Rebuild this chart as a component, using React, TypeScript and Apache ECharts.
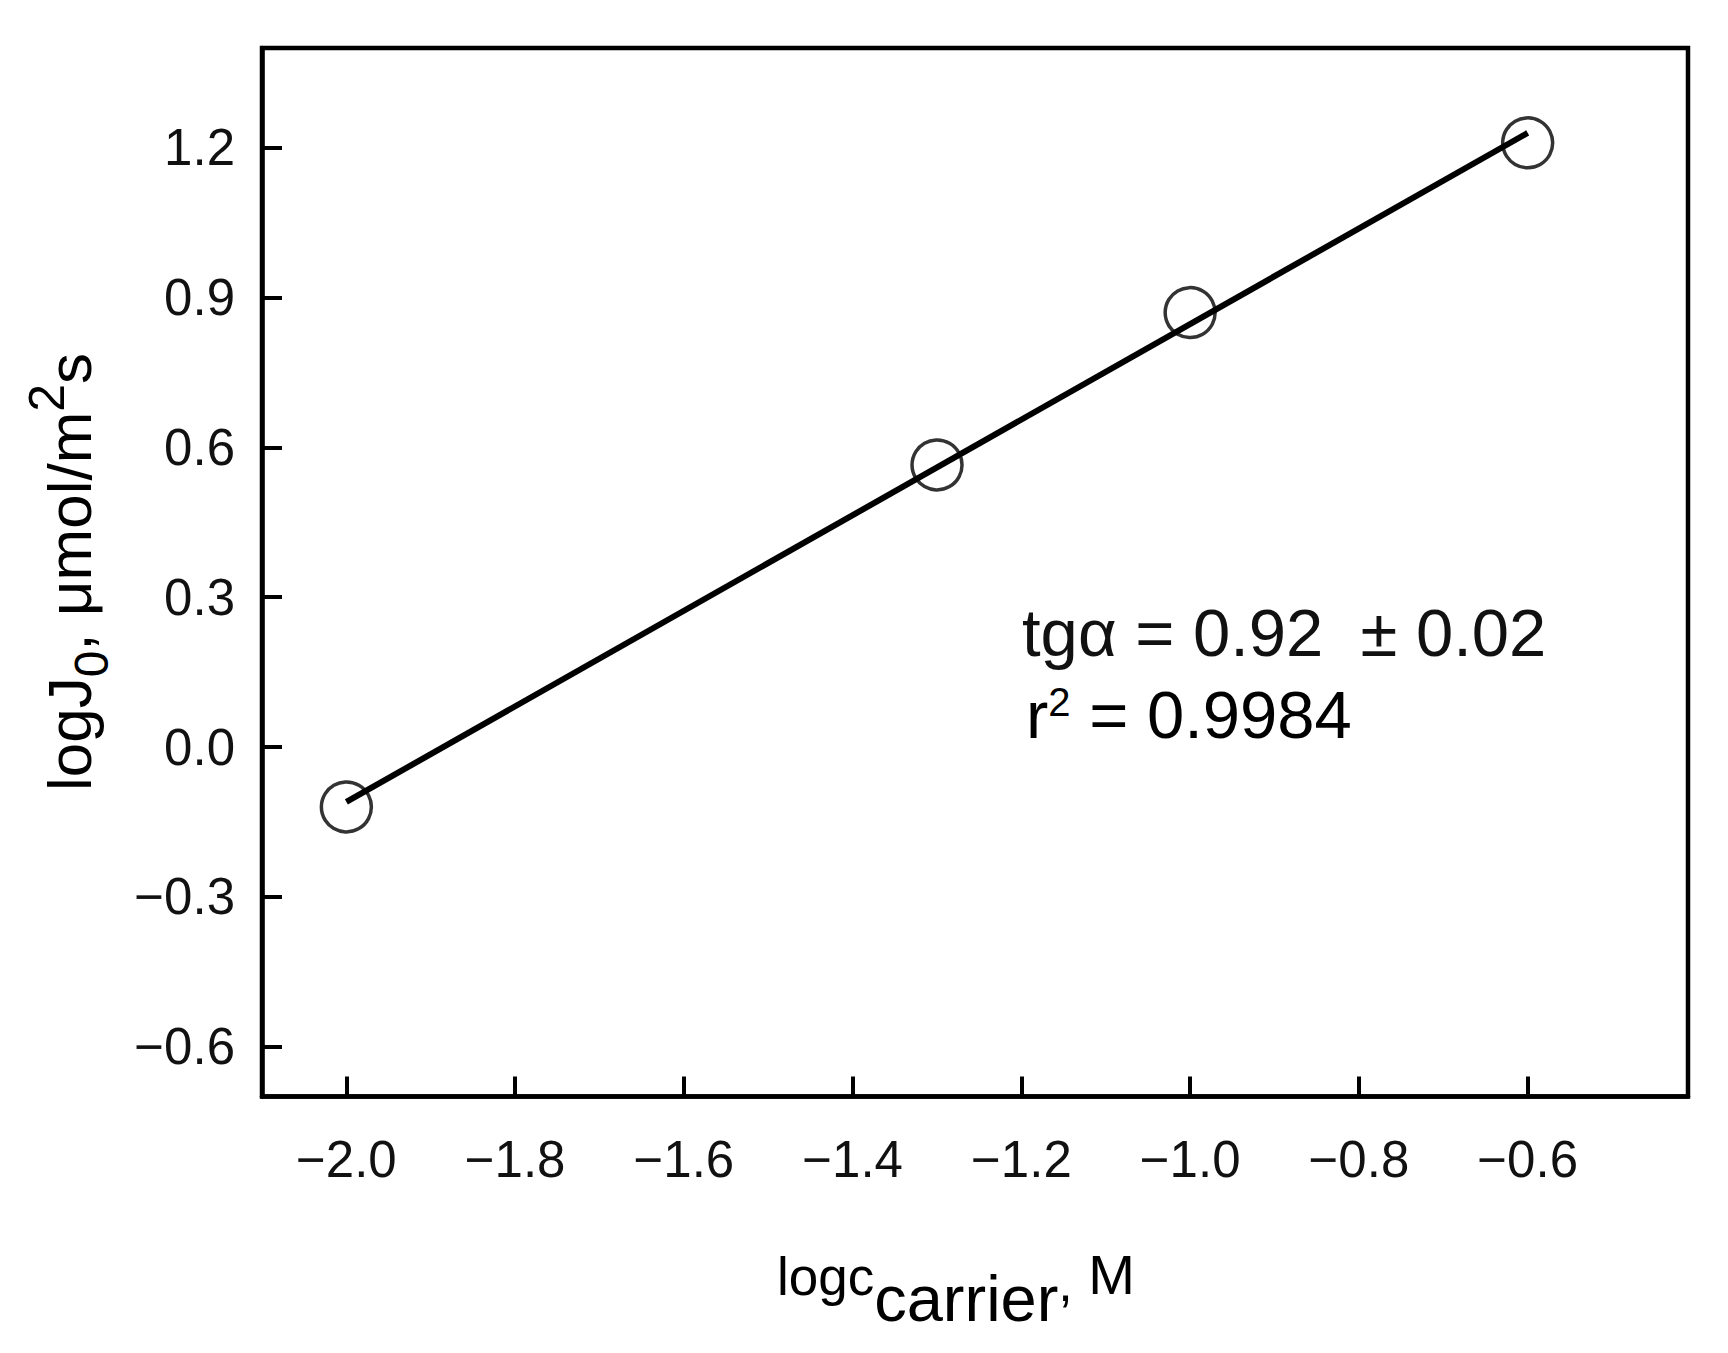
import React, { useEffect, useRef } from "react";
import * as echarts from "echarts";

// Data
const carrierLog = [-2.0, -1.3, -1.0, -0.6];
const fluxLog = [-0.12, 0.565, 0.87, 1.21];
const fitX = [-2.0, -0.6];
const fitY = [-0.11, 1.23];
const xTicks = [-2.0, -1.8, -1.6, -1.4, -1.2, -1.0, -0.8, -0.6];
const yTicks = [-0.6, -0.3, 0.0, 0.3, 0.6, 0.9, 1.2];
const slopeText = "tgα = 0.92  ± 0.02";
const r2Value = " = 0.9984";

const FONT = "Liberation Sans, Arial, sans-serif";
const fmt = (v: number) => {
  const s = (Math.round(v * 10) / 10).toFixed(1);
  return s.replace("-", "\u2212");
};

export default function App() {
  const ref = useRef<HTMLDivElement>(null);
  useEffect(() => {
    if (!ref.current) return;
    const chart = echarts.init(ref.current, null, { renderer: "svg" });
    const axisCommon = {
      axisLine: { show: true, onZero: false, lineStyle: { color: "#000", width: 4.5 } },
      axisTick: { show: true, inside: true, length: 20, lineStyle: { color: "#000", width: 4 } },
      splitLine: { show: false },
    };
    chart.setOption({
      animation: false,
      backgroundColor: "#fff",
      grid: {
        left: 262,
        top: 48,
        right: 40,
        bottom: 256.5,
        show: true,
        borderColor: "#000",
        borderWidth: 4.5,
        backgroundColor: "transparent",
      },
      xAxis: {
        type: "value",
        min: -2.1,
        max: -0.41,
        ...axisCommon,
        axisTick: { ...axisCommon.axisTick, customValues: xTicks },
        axisLabel: {
          customValues: xTicks,
          formatter: (v: number) => fmt(v),
          color: "#111",
          fontFamily: FONT,
          fontSize: 51,
          margin: 37,
        },
      },
      yAxis: {
        type: "value",
        min: -0.7,
        max: 1.4,
        ...axisCommon,
        axisTick: { ...axisCommon.axisTick, customValues: yTicks },
        axisLabel: {
          customValues: yTicks,
          formatter: (v: number) => fmt(v),
          color: "#111",
          fontFamily: FONT,
          fontSize: 51,
          margin: 27,
        },
      },
      series: [
        {
          type: "scatter",
          data: carrierLog.map((x, i) => [x, fluxLog[i]]),
          symbol: "circle",
          symbolSize: 50,
          itemStyle: { color: "rgba(0,0,0,0)", borderColor: "#000", borderWidth: 3.5 },
          z: 2,
        },
        {
          type: "line",
          data: fitX.map((x, i) => [x, fitY[i]]),
          showSymbol: false,
          symbol: "none",
          lineStyle: { color: "#000", width: 6 },
          z: 3,
        },
      ],
      graphic: [
        {
          type: "text",
          x: 1022,
          y: 632,
          style: {
            text: slopeText,
            font: `67px ${FONT}`,
            fill: "#111",
            align: "left",
            verticalAlign: "middle",
          },
        },
        {
          type: "text",
          x: 1026,
          y: 714,
          style: {
            text: `{m|r}{s|2}{m|${r2Value}}`,
            align: "left",
            verticalAlign: "middle",
            rich: {
              m: { fontFamily: FONT, fontSize: 67, lineHeight: 67, color: "#111", verticalAlign: "bottom" },
              s: { fontFamily: FONT, fontSize: 40, lineHeight: 40, color: "#111", verticalAlign: "bottom", padding: [0, 0, 26, 0] },
            },
          },
        },
        {
          type: "text",
          x: 956,
          y: 1298,
          style: {
            text: "{l|logc}{s|carrier}{c|,}{m| M}",
            align: "center",
            verticalAlign: "middle",
            rich: {
              l: { fontFamily: FONT, fontSize: 53, lineHeight: 53, color: "#111", verticalAlign: "bottom", padding: [0, 0, 28, 0] },
              s: { fontFamily: FONT, fontSize: 65, lineHeight: 65, color: "#111", verticalAlign: "bottom" },
              c: { fontFamily: FONT, fontSize: 52, lineHeight: 52, color: "#111", verticalAlign: "bottom", padding: [0, 0, 22, 0] },
              m: { fontFamily: FONT, fontSize: 56, lineHeight: 56, color: "#111", verticalAlign: "bottom", padding: [0, 0, 28, 0] },
            },
          },
        },
        {
          type: "text",
          x: 84,
          y: 572,
          rotation: Math.PI / 2,
          style: {
            text: "{m|logJ}{b|0}{m|, μmol/m}{p|2}{m|s}",
            align: "center",
            verticalAlign: "middle",
            rich: {
              m: { fontFamily: FONT, fontSize: 62, lineHeight: 62, color: "#111", verticalAlign: "bottom", padding: [0, 0, 15, 0] },
              b: { fontFamily: FONT, fontSize: 48, lineHeight: 48, color: "#111", verticalAlign: "bottom" },
              p: { fontFamily: FONT, fontSize: 50, lineHeight: 50, color: "#111", verticalAlign: "bottom", padding: [0, 0, 43, 0] },
            },
          },
        },
      ],
    });
    return () => chart.dispose();
  }, []);
  return (
    <div
      ref={ref}
      style={{ position: "absolute", left: 0, top: 0, width: 1728, height: 1353 }}
    />
  );
}
